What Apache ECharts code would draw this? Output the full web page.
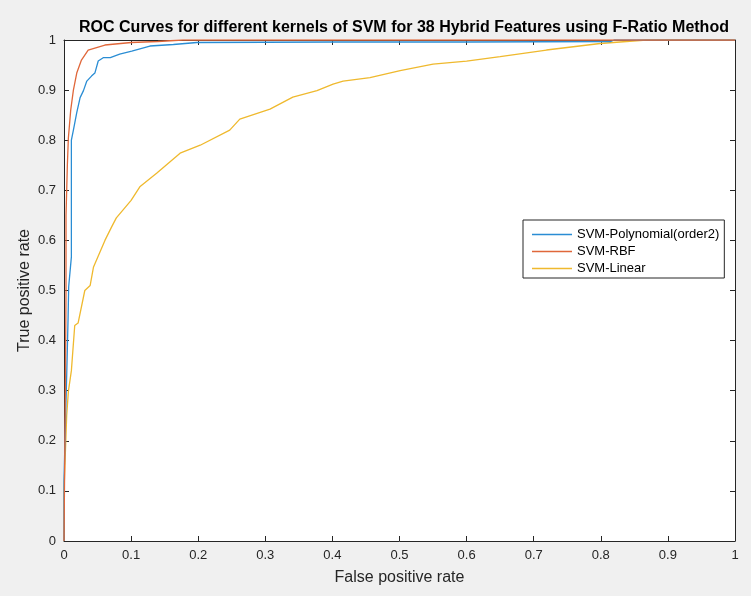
<!DOCTYPE html>
<html>
<head>
<meta charset="utf-8">
<script src="https://cdn.jsdelivr.net/npm/echarts@6/dist/echarts.min.js"></script>
<style>
html,body{margin:0;padding:0;background:#f0f0f0;}
#c{width:751px;height:596px;}
</style>
</head>
<body>
<div id="c"></div>
<script>
var titleText = "ROC Curves for different kernels of SVM for 38 Hybrid Features using F-Ratio Method";
var xName = "False positive rate";
var yName = "True positive rate";
var seriesNames = ["SVM-Polynomial(order2)", "SVM-RBF", "SVM-Linear"];

var polyFpr = [0, 0, 0.002, 0.004, 0.006, 0.007, 0.011, 0.011, 0.014, 0.019, 0.024, 0.029, 0.034, 0.041, 0.046, 0.051, 0.059, 0.069, 0.083, 0.101, 0.128, 0.163, 0.198, 0.40, 0.60, 0.815, 0.82, 1];
var polyTpr = [0, 0.12, 0.23, 0.33, 0.44, 0.508, 0.567, 0.80, 0.82, 0.855, 0.885, 0.899, 0.918, 0.928, 0.934, 0.958, 0.965, 0.965, 0.972, 0.978, 0.988, 0.991, 0.995, 0.996, 0.996, 0.997, 1, 1];

var rbfFpr = [0, 0.002, 0.003, 0.003, 0.005, 0.0065, 0.01, 0.014, 0.019, 0.026, 0.036, 0.061, 0.10, 0.14, 0.177, 1];
var rbfTpr = [0, 0.3, 0.5, 0.65, 0.75, 0.804, 0.86, 0.90, 0.934, 0.96, 0.98, 0.99, 0.995, 0.997, 1, 1];

var linFpr = [0, 0, 0.004, 0.0065, 0.011, 0.016, 0.021, 0.031, 0.039, 0.044, 0.061, 0.071, 0.078, 0.100, 0.113, 0.138, 0.173, 0.203, 0.247, 0.262, 0.307, 0.341, 0.377, 0.401, 0.416, 0.456, 0.501, 0.550, 0.600, 0.650, 0.719, 0.799, 0.868, 1];
var linTpr = [0, 0.1, 0.25, 0.298, 0.34, 0.43, 0.435, 0.50, 0.51, 0.547, 0.60, 0.627, 0.645, 0.680, 0.707, 0.734, 0.774, 0.790, 0.820, 0.842, 0.862, 0.886, 0.899, 0.912, 0.918, 0.925, 0.939, 0.952, 0.958, 0.967, 0.980, 0.993, 1.0, 1.0];

var colors = ["#2a8dd4", "#e0673a", "#efb92e"];

function pairs(xs, ys){ return xs.map(function(x,i){ return [x, ys[i]]; }); }

var font = "'Liberation Sans', Arial, Helvetica, sans-serif";
var axisColor = "#262626";

function mkX(main){
  return {
    type: 'value', min: 0, max: 1, interval: 0.1,
    position: main ? 'bottom' : 'top',
    name: main ? xName : '', nameLocation: 'middle', nameGap: 29,
    nameTextStyle: {fontSize: 16, color: axisColor, fontFamily: font},
    axisLine: {show: true, onZero: false, lineStyle: {color: axisColor, width: 1}},
    axisTick: {show: true, inside: true, length: 5, lineStyle: {color: axisColor}},
    axisLabel: {show: main, color: axisColor, fontSize: 13, margin: 8, fontFamily: font},
    splitLine: {show: false}
  };
}
function mkY(main){
  return {
    type: 'value', min: 0, max: 1, interval: 0.1,
    position: main ? 'left' : 'right',
    name: main ? yName : '', nameLocation: 'middle', nameGap: 31, nameMoveOverlap: false,
    nameTextStyle: {fontSize: 16, color: axisColor, fontFamily: font},
    axisLine: {show: true, onZero: false, lineStyle: {color: axisColor, width: 1}},
    axisTick: {show: true, inside: true, length: 5, lineStyle: {color: axisColor}},
    axisLabel: {show: main, color: axisColor, fontSize: 13, margin: 8, fontFamily: font},
    splitLine: {show: false}
  };
}

var chart = echarts.init(document.getElementById('c'), null, {renderer: 'canvas'});
chart.setOption({
  animation: false,
  backgroundColor: '#f0f0f0',
  color: colors,
  title: {
    text: titleText, left: 399, top: 15, textAlign: 'center',
    textStyle: {fontSize: 16, fontWeight: 'bold', color: '#000', fontFamily: font}
  },
  grid: {left: 64, right: 16, top: 40, bottom: 55, show: true, backgroundColor: '#fff', borderWidth: 0},
  legend: {
    orient: 'vertical', left: 523, top: 220,
    data: seriesNames,
    icon: 'rect', itemWidth: 40, itemHeight: 1.5, itemGap: 4,
    padding: [8, 5, 3, 9],
    backgroundColor: '#fff', borderColor: axisColor, borderWidth: 1,
    textStyle: {fontSize: 13, color: '#000', fontFamily: font}
  },
  xAxis: [mkX(true), mkX(false)],
  yAxis: [mkY(true), mkY(false)],
  series: [
    {name: seriesNames[0], type: 'line', data: pairs(polyFpr, polyTpr), showSymbol: false, lineStyle: {width: 1.3, color: colors[0]}, itemStyle: {color: colors[0]}, z: 3},
    {name: seriesNames[1], type: 'line', data: pairs(rbfFpr, rbfTpr), showSymbol: false, lineStyle: {width: 1.3, color: colors[1]}, itemStyle: {color: colors[1]}, z: 4},
    {name: seriesNames[2], type: 'line', data: pairs(linFpr, linTpr), showSymbol: false, lineStyle: {width: 1.3, color: colors[2]}, itemStyle: {color: colors[2]}, z: 2}
  ]
});
</script>
</body>
</html>
